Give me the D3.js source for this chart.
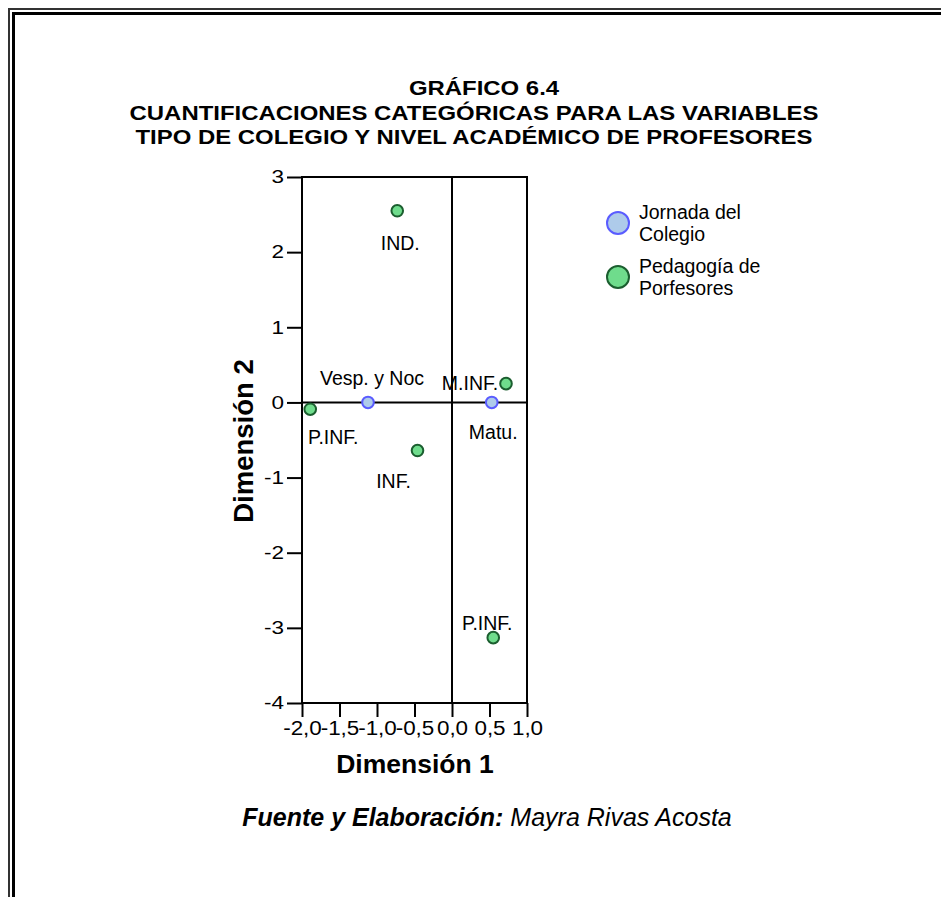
<!doctype html>
<html lang="es">
<head>
<meta charset="utf-8">
<title>Gráfico 6.4</title>
<style>
  body { margin: 0; background: #fff; font-family: "Liberation Sans", Arial, sans-serif; }
  .axis .domain { display: none; }
</style>
</head>
<body>
<svg width="941" height="897"></svg>
<script src="https://d3js.org/d3.v7.min.js"></script>
<script>
// data
var titleLines = ["GRÁFICO 6.4",
  "CUANTIFICACIONES CATEGÓRICAS PARA LAS VARIABLES",
  "TIPO DE COLEGIO Y NIVEL ACADÉMICO DE PROFESORES"];
var seriesNames = ["Jornada del Colegio", "Pedagogía de Porfesores"];
var jornadaLabels = ["Vesp. y Noc", "Matu."];
var jornadaX = [-1.12, 0.53];
var jornadaY = [0, 0];
var pedagogiaLabels = ["IND.", "P.INF.", "INF.", "M.INF.", "P.INF."];
var pedagogiaX = [-0.73, -1.89, -0.46, 0.72, 0.55];
var pedagogiaY = [2.55, -0.09, -0.64, 0.25, -3.13];
var xTicks = [-2, -1.5, -1, -0.5, 0, 0.5, 1];
var yTicks = [-4, -3, -2, -1, 0, 1, 2, 3];

var svg = d3.select("svg");

// page frame (double line)
svg.append("path").attr("d", "M9,897 V9 H941").attr("fill", "none").attr("stroke", "#333").attr("stroke-width", 2);
svg.append("path").attr("d", "M13.5,897 V13.5 H941").attr("fill", "none").attr("stroke", "#000").attr("stroke-width", 3);

// title (the original font is a bit wide, so stretch it sideways)
var titleStretch = 1.14;
svg.append("g").selectAll("text")
  .data(titleLines)
  .enter().append("text")
    .attr("transform", function(d, i) {
      return "translate(" + (i === 0 ? 484 : 474) + "," + (95 + i * 24.5) + ") scale(" + titleStretch + ",1)";
    })
    .attr("text-anchor", "middle")
    .attr("font-size", 21)
    .attr("font-weight", "bold")
    .text(function(d) { return d; });

// scales
var x = d3.scaleLinear().domain([-2, 1]).range([302, 527]);
var y = d3.scaleLinear().domain([-4, 3]).range([703, 177]);

var g = svg.append("g");

// plot frame + zero lines
g.append("rect")
  .attr("x", x(-2)).attr("y", y(3))
  .attr("width", x(1) - x(-2)).attr("height", y(-4) - y(3))
  .attr("fill", "none").attr("stroke", "#000").attr("stroke-width", 2);
g.append("line")
  .attr("x1", x(0)).attr("x2", x(0)).attr("y1", y(3)).attr("y2", y(-4))
  .attr("stroke", "#000").attr("stroke-width", 2);
g.append("line")
  .attr("x1", x(-2)).attr("x2", x(1)).attr("y1", y(0)).attr("y2", y(0))
  .attr("stroke", "#000").attr("stroke-width", 2);

// axes (tick labels are a little wide in the original)
var stretch = 1.15;
var fmt = function(d) { return d3.format(".1f")(d).replace(".", ",").replace("−", "-"); };

g.append("g")
  .attr("class", "axis")
  .attr("transform", "translate(0," + y(-4) + ")")
  .call(d3.axisBottom(x).tickValues(xTicks).tickSize(14).tickPadding(4).tickFormat(fmt))
  .call(function(a) {
    a.selectAll("line").attr("stroke", "#000").attr("stroke-width", 2);
    a.selectAll("text").attr("font-size", 19.5).attr("font-family", "Liberation Sans, Arial, sans-serif")
      .attr("fill", "#000").attr("transform", "scale(" + stretch + ",1)");
  });

g.append("g")
  .attr("class", "axis")
  .attr("transform", "translate(" + x(-2) + ",0)")
  .call(d3.axisLeft(y).tickValues(yTicks).tickSize(15).tickPadding(3).tickFormat(function(d) { return String(d); }))
  .call(function(a) {
    a.selectAll("line").attr("stroke", "#000").attr("stroke-width", 2);
    a.selectAll("text").attr("font-size", 18).attr("font-family", "Liberation Sans, Arial, sans-serif")
      .attr("fill", "#000").attr("x", -18 / 1.25).attr("transform", "scale(1.25,1)");
  });

// axis titles
svg.append("text")
  .attr("x", 415).attr("y", 773)
  .attr("text-anchor", "middle")
  .attr("font-size", 26.5).attr("font-weight", "bold")
  .text("Dimensión 1");

svg.append("text")
  .attr("transform", "translate(253,441) rotate(-90)")
  .attr("text-anchor", "middle")
  .attr("font-size", 27.5).attr("font-weight", "bold")
  .text("Dimensión 2");

// label offsets (dx, dy relative to point)
var jornadaOff = [[4, -17], [1.5, 37]];
var pedagogiaOff = [[3, 39], [23, 35], [-24, 37], [-36, 6], [-6, -8]];

var blue = {fill: "#aecbea", stroke: "#5a5cff"};
var green = {fill: "#6fdc8c", stroke: "#1b5e2f"};

function drawSeries(xs, ys, labels, off, c) {
  var s = g.append("g");
  s.selectAll("text")
    .data(labels)
    .enter().append("text")
      .attr("x", function(d, i) { return x(xs[i]) + off[i][0]; })
      .attr("y", function(d, i) { return y(ys[i]) + off[i][1]; })
      .attr("text-anchor", "middle")
      .attr("font-size", 19.5)
      .text(function(d) { return d; });
  s.selectAll("circle")
    .data(labels)
    .enter().append("circle")
      .attr("cx", function(d, i) { return x(xs[i]); })
      .attr("cy", function(d, i) { return y(ys[i]); })
      .attr("r", 5.8)
      .attr("fill", c.fill)
      .attr("stroke", c.stroke)
      .attr("stroke-width", 2);
}
drawSeries(jornadaX, jornadaY, jornadaLabels, jornadaOff, blue);
drawSeries(pedagogiaX, pedagogiaY, pedagogiaLabels, pedagogiaOff, green);

// legend
var legend = svg.append("g").selectAll("g")
  .data(seriesNames)
  .enter().append("g")
    .attr("transform", function(d, i) { return "translate(618," + (223 + i * 54) + ")"; });

legend.append("circle")
  .attr("r", 11)
  .attr("fill", function(d, i) { return i === 0 ? blue.fill : green.fill; })
  .attr("stroke", function(d, i) { return i === 0 ? blue.stroke : green.stroke; })
  .attr("stroke-width", 2);

legend.append("text")
  .attr("y", -4)
  .attr("font-size", 19.5)
  .selectAll("tspan")
  .data(function(d) { var w = d.split(" "); return [w.slice(0, w.length - 1).join(" "), w[w.length - 1]]; })
  .enter().append("tspan")
    .attr("x", 21)
    .attr("dy", function(d, i) { return i === 0 ? 0 : 22; })
    .text(function(d) { return d; });

// footer
var foot = svg.append("text")
  .attr("x", 487).attr("y", 826)
  .attr("text-anchor", "middle")
  .attr("font-size", 25)
  .attr("font-style", "italic");
foot.append("tspan").attr("font-weight", "bold").text("Fuente y Elaboración:");
foot.append("tspan").text(" Mayra Rivas Acosta");
</script>
</body>
</html>
